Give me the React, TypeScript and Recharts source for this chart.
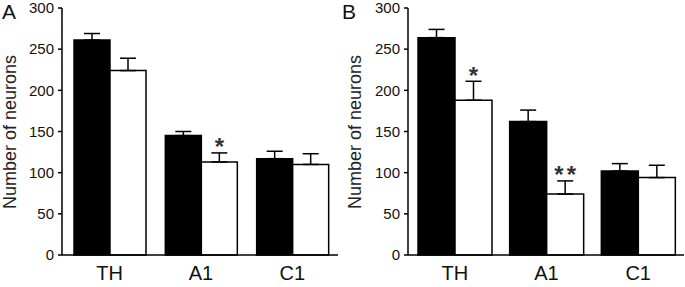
import React from 'react';
import { BarChart, Bar, XAxis, YAxis, ErrorBar, LabelList } from 'recharts';

const categories = ['TH', 'A1', 'C1'];
const yTicks = [0, 50, 100, 150, 200, 250, 300];

// panel A
const ctrlA = [261, 145, 117];
const ctrlErrA = [8, 5, 9];
const treatA = [224, 113, 110];
const treatErrA = [15, 11, 13];
const sigA = ['', '*', ''];

// panel B
const ctrlB = [264, 162, 102];
const ctrlErrB = [10, 14, 9];
const treatB = [188, 74, 94];
const treatErrB = [23, 16, 15];
const sigB = ['*', '**', ''];

const FONT = '"Liberation Sans", Arial, sans-serif';

const build = (ctrl: number[], ctrlErr: number[], treat: number[], treatErr: number[], sig: string[]) =>
  categories.map((name, i) => ({
    name,
    ctrl: ctrl[i],
    ctrlE: [0, ctrlErr[i]],
    treat: treat[i],
    treatE: [0, treatErr[i]],
    sig: sig[i],
  }));

interface PanelProps {
  letter: string;
  left: number;
  width: number;
  axisW: number;
  padLeft: number;
  marginRight: number;
  barSize: number;
  labelX: number;
  data: ReturnType<typeof build>;
  treat: number[];
  treatErr: number[];
}

const Panel: React.FC<PanelProps> = (p) => {
  const star = (props: any) => {
    const vb = props.viewBox || props;
    const x = props.x ?? vb.x;
    const y = props.y ?? vb.y;
    const w = props.width ?? vb.width;
    const h = props.height ?? vb.height;
    const i = props.index;
    const v = p.data[i]?.sig;
    if (!v) return null;
    const perUnit = h / p.treat[i];
    const top = y - p.treatErr[i] * perUnit;
    const two = v.length > 1;
    return (
      <text x={x + w / 2 + (two ? 1.5 : 0)} y={top + 2.5} textAnchor="middle" fontSize={24} fontWeight="bold"
        fontFamily={FONT} fill="#333" letterSpacing={two ? 3 : 0}>
        {v}
      </text>
    );
  };

  return (
    <div style={{ position: 'absolute', left: p.left, top: 0, width: p.width, height: 287 }}>
      <BarChart width={p.width} height={287} data={p.data} barGap={0} barSize={p.barSize}
        margin={{ top: 8, right: p.marginRight, bottom: 0, left: 0 }}>
        <XAxis dataKey="name" height={32} tickLine={false} tickSize={6} tickMargin={5}
          axisLine={{ stroke: '#000', strokeWidth: 1.5 }} padding={{ left: p.padLeft, right: 0 }}
          tick={{ fontSize: 20, fill: '#111', fontFamily: FONT }} />
        <YAxis width={p.axisW} domain={[0, 300]} ticks={yTicks} interval={0} tickSize={4} tickMargin={4}
          axisLine={{ stroke: '#000', strokeWidth: 1.5 }} tickLine={{ stroke: '#000', strokeWidth: 1.5 }}
          tick={{ fontSize: 15, fill: '#111', fontFamily: FONT }} />
        <Bar dataKey="ctrl" fill="#000" stroke="#000" strokeWidth={1.5} isAnimationActive={false}>
          <ErrorBar dataKey="ctrlE" direction="y" width={8} stroke="#000" strokeWidth={1.5} />
        </Bar>
        <Bar dataKey="treat" fill="#fff" stroke="#000" strokeWidth={1.5} isAnimationActive={false}>
          <ErrorBar dataKey="treatE" direction="y" width={8} stroke="#000" strokeWidth={1.5} />
          <LabelList dataKey="sig" content={star} />
        </Bar>
      </BarChart>
      <div style={{ position: 'absolute', left: 2, top: 0, fontSize: 21, fontFamily: FONT, color: '#111' }}>
        {p.letter}
      </div>
      <div style={{
        position: 'absolute', left: p.labelX, top: 132, fontSize: 18, fontFamily: FONT, color: '#222',
        whiteSpace: 'nowrap', transform: 'translate(-50%, -50%) rotate(-90deg)',
      }}>
        Number of neurons
      </div>
    </div>
  );
};

export default function App() {
  const dataA = build(ctrlA, ctrlErrA, treatA, treatErrA, sigA);
  const dataB = build(ctrlB, ctrlErrB, treatB, treatErrB, sigB);
  return (
    <div style={{ position: 'absolute', left: 0, top: 0, width: 685, height: 287, background: '#fff' }}>
      <Panel letter="A" left={0} width={340} axisW={62} padLeft={2} marginRight={2} barSize={36}
        labelX={10} data={dataA} treat={treatA} treatErr={treatErrA} />
      <Panel letter="B" left={340} width={345} axisW={68} padLeft={1} marginRight={1} barSize={37}
        labelX={15} data={dataB} treat={treatB} treatErr={treatErrB} />
    </div>
  );
}
